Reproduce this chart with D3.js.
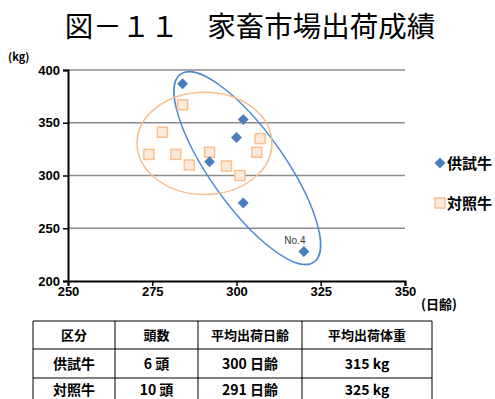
<!DOCTYPE html>
<html>
<head>
<meta charset="utf-8">
<script src="https://cdn.jsdelivr.net/npm/d3@7"></script>
<style>
  body { margin: 0; background: #fff; }
  text { font-family: "Noto Sans CJK JP", "Liberation Sans", sans-serif; }
  .num { font-family: "Liberation Sans", Arial, sans-serif; font-weight: bold; }
</style>
</head>
<body>
<div id="chart"></div>
<script>
// 供試牛 (test cattle): 出荷日齢, 出荷体重
const testAge    = [284, 302, 300, 292, 302, 320];
const testWeight = [387, 353, 336, 313, 274, 228];
// 対照牛 (control cattle)
const ctrlAge    = [274, 278, 282, 284, 286, 292, 297, 301, 307, 306];
const ctrlWeight = [320, 341, 320, 367, 310, 322, 309, 300, 335, 322];

const xTicks = [250, 275, 300, 325, 350];
const yTicks = [200, 250, 300, 350, 400];
const legendNames = ['供試牛', '対照牛'];

// ellipse annotations in data units
const testEllipse = { cx: 303.2, cy: 307, a: 34.2, b: 11.0, angle: 54.6 };
const ctrlEllipse = { cx: 290.5, cy: 330.5, rx: 20, ry: 48.5 };

const tableHead = ['区分', '頭数', '平均出荷日齢', '平均出荷体重'];
const tableRows = [
  ['供試牛', '6 頭', '300 日齢', '315 kg'],
  ['対照牛', '10 頭', '291 日齢', '325 kg']
];

const W = 495, H = 399;
const svg = d3.select('#chart').append('svg')
  .attr('width', W).attr('height', H);

// title
svg.append('text')
  .attr('x', 250).attr('y', 37)
  .attr('text-anchor', 'middle')
  .style('font-size', '28.5px')
  .text('図－１１　家畜市場出荷成績');

const x = d3.scaleLinear().domain([250, 350]).range([68, 405]);
const y = d3.scaleLinear().domain([200, 400]).range([281, 70]);

// grid lines
svg.append('g')
  .selectAll('line')
  .data(yTicks.filter(d => d > 200))
  .join('line')
  .attr('x1', x(250)).attr('x2', x(350))
  .attr('y1', d => y(d)).attr('y2', d => y(d))
  .attr('stroke', '#8c8c8c').attr('stroke-width', 1.5);

// axes
const yAxis = d3.axisLeft(y).tickValues(yTicks).tickSize(5).tickPadding(3);
const gy = svg.append('g').attr('transform', `translate(${x(250)},0)`).call(yAxis);
gy.select('.domain').attr('stroke', '#000').attr('stroke-width', 2);
gy.selectAll('.tick line').attr('stroke', '#000').attr('stroke-width', 1.5);
gy.selectAll('.tick text').attr('class', 'num').style('font-size', '13px').attr('fill', '#000');

const xAxis = d3.axisBottom(x).tickValues(xTicks).tickSize(5).tickPadding(1);
const gx = svg.append('g').attr('transform', `translate(0,${y(200)})`).call(xAxis);
gx.select('.domain').attr('stroke', '#000').attr('stroke-width', 2);
gx.selectAll('.tick line').attr('stroke', '#000').attr('stroke-width', 1.5);
gx.selectAll('.tick text').attr('class', 'num').style('font-size', '13px').attr('fill', '#000');

// unit labels
svg.append('text').attr('x', 8).attr('y', 61)
  .style('font-size', '11px').style('font-weight', 'bold').text('(kg)');
svg.append('text').attr('x', 421).attr('y', 309)
  .style('font-size', '13px').style('font-weight', 'bold').text('(日齢)');

// ellipses
svg.append('ellipse')
  .attr('transform', `translate(${x(testEllipse.cx)},${y(testEllipse.cy)}) rotate(${testEllipse.angle})`)
  .attr('rx', x(testEllipse.cx + testEllipse.a) - x(testEllipse.cx))
  .attr('ry', x(testEllipse.cx + testEllipse.b) - x(testEllipse.cx))
  .attr('fill', 'none').attr('stroke', '#4a86d6').attr('stroke-width', 1.5);

svg.append('ellipse')
  .attr('cx', x(ctrlEllipse.cx)).attr('cy', y(ctrlEllipse.cy))
  .attr('rx', x(ctrlEllipse.cx + ctrlEllipse.rx) - x(ctrlEllipse.cx))
  .attr('ry', y(ctrlEllipse.cy - ctrlEllipse.ry) - y(ctrlEllipse.cy))
  .attr('fill', 'none').attr('stroke', '#f9be8e').attr('stroke-width', 1.5);

// control squares
const ctrl = ctrlAge.map((d, i) => ({ age: d, w: ctrlWeight[i] }));
svg.append('g').selectAll('rect')
  .data(ctrl)
  .join('rect')
  .attr('x', d => x(d.age) - 5).attr('y', d => y(d.w) - 5)
  .attr('width', 10).attr('height', 10)
  .attr('fill', '#fde9d9').attr('stroke', '#fac090').attr('stroke-width', 1.5);

// test diamonds
const test = testAge.map((d, i) => ({ age: d, w: testWeight[i] }));
const diamond = d3.symbol().type(d3.symbolDiamond2).size(76);
svg.append('g').selectAll('path')
  .data(test)
  .join('path')
  .attr('d', diamond)
  .attr('transform', d => `translate(${x(d.age)},${y(d.w)})`)
  .attr('fill', '#4a7ebb');

// No.4 label
svg.append('text')
  .attr('x', x(testAge[5]) - 9).attr('y', y(testWeight[5]) - 7)
  .attr('text-anchor', 'middle')
  .attr('class', 'num').style('font-weight', 'normal')
  .style('font-size', '10px').attr('fill', '#333')
  .text('No.4');

// legend
const lg = svg.append('g').attr('transform', 'translate(440,163)');
lg.append('path').attr('d', diamond).attr('fill', '#4a7ebb');
lg.append('rect').attr('x', -5).attr('y', 35).attr('width', 10).attr('height', 10)
  .attr('fill', '#fde9d9').attr('stroke', '#fac090').attr('stroke-width', 1.5);
lg.selectAll('text').data(legendNames).join('text')
  .attr('x', 7).attr('y', (d, i) => i * 40 + 6)
  .style('font-size', '15px').style('font-weight', 'bold')
  .text(d => d);

// table
const colX = [33, 115, 198, 302, 432];
const rowY = [321, 349, 378, 407];
const tb = svg.append('g');
const allRows = [tableHead].concat(tableRows);
rowY.forEach(ry => {
  tb.append('line').attr('x1', colX[0]).attr('x2', colX[4])
    .attr('y1', ry).attr('y2', ry).attr('stroke', '#000').attr('stroke-width', 1);
});
colX.forEach(cx => {
  tb.append('line').attr('x1', cx).attr('x2', cx)
    .attr('y1', rowY[0]).attr('y2', rowY[3]).attr('stroke', '#000').attr('stroke-width', 1);
});
allRows.forEach((row, r) => {
  row.forEach((cell, c) => {
    tb.append('text')
      .attr('x', (colX[c] + colX[c + 1]) / 2)
      .attr('y', r === 2 ? 395 : (rowY[r] + rowY[r + 1]) / 2 + 5)
      .attr('text-anchor', 'middle')
      .style('font-size', r === 0 ? '13px' : '14px')
      .style('font-weight', 'bold')
      .text(cell);
  });
});
</script>
</body>
</html>
